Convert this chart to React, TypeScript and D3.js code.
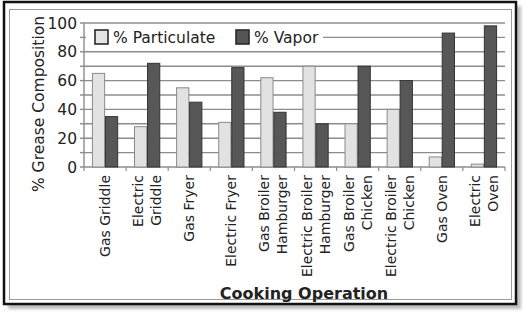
import { useEffect, useRef } from 'react';
import * as d3 from 'd3';

// Values
const categories = [
  'Gas Griddle',
  'Electric Griddle',
  'Gas Fryer',
  'Electric Fryer',
  'Gas Broiler Hamburger',
  'Electric Broiler Hamburger',
  'Gas Broiler Chicken',
  'Electric Broiler Chicken',
  'Gas Oven',
  'Electric Oven',
];
// how each category label is broken into lines
const categoryLines = [
  ['Gas Griddle'],
  ['Electric', 'Griddle'],
  ['Gas Fryer'],
  ['Electric Fryer'],
  ['Gas Broiler', 'Hamburger'],
  ['Electric Broiler', 'Hamburger'],
  ['Gas Broiler', 'Chicken'],
  ['Electric Broiler', 'Chicken'],
  ['Gas Oven'],
  ['Electric', 'Oven'],
];
const particulate = [65, 28, 55, 31, 62, 70, 30, 40, 7, 2];
const vapor = [35, 72, 45, 69, 38, 30, 70, 60, 93, 98];
const seriesNames = ['% Particulate', '% Vapor'];
const yTicks = [0, 20, 40, 60, 80, 100];

const FONT = '"DejaVu Sans", Verdana, sans-serif';

const App = () => {
  const svgRef = useRef<SVGSVGElement>(null);

  useEffect(() => {
    if (!svgRef.current) return;
    const svg = d3.select(svgRef.current);
    svg.selectAll('*').remove();

    const width = 526;
    const height = 314;
    const left = 84;
    const right = 505;
    const top = 23;
    const bottom = 167;

    // frame with drop shadow
    svg.append('rect')
      .attr('x', 8).attr('y', 6).attr('width', 513).attr('height', 303)
      .attr('fill', '#bdbdbd')
      .attr('filter', 'url(#blur)');
    const defs = svg.append('defs');
    defs.append('filter').attr('id', 'blur')
      .append('feGaussianBlur').attr('stdDeviation', 1.5);
    svg.append('rect')
      .attr('x', 4).attr('y', 2).attr('width', 512).attr('height', 302)
      .attr('fill', '#fff').attr('stroke', '#111').attr('stroke-width', 2.5);
    svg.append('rect')
      .attr('x', 9.5).attr('y', 9.5).attr('width', 502).attr('height', 290)
      .attr('fill', 'none').attr('stroke', '#9a9a9a').attr('stroke-width', 1);

    const x0 = d3.scaleBand<string>()
      .domain(categories)
      .range([left, right])
      .paddingInner(0.4)
      .paddingOuter(0.2);
    const x1 = d3.scaleBand<string>()
      .domain(seriesNames)
      .range([0, x0.bandwidth()])
      .paddingInner(0.06);
    const y = d3.scaleLinear().domain([0, 100]).range([bottom, top]);

    // gridlines every 10
    svg.append('g')
      .selectAll('line')
      .data(d3.range(0, 101, 10))
      .join('line')
      .attr('x1', left).attr('x2', right)
      .attr('y1', d => y(d)).attr('y2', d => y(d))
      .attr('stroke', '#8c8c8c').attr('stroke-width', 1.4);

    // y axis
    svg.append('line')
      .attr('x1', left).attr('x2', left).attr('y1', top).attr('y2', bottom)
      .attr('stroke', '#8c8c8c').attr('stroke-width', 1.4);
    svg.append('g')
      .selectAll('line')
      .data(d3.range(0, 101, 10))
      .join('line')
      .attr('x1', left - 4).attr('x2', left)
      .attr('y1', d => y(d)).attr('y2', d => y(d))
      .attr('stroke', '#8c8c8c').attr('stroke-width', 1.4);
    svg.append('g')
      .selectAll('text')
      .data(yTicks)
      .join('text')
      .attr('x', left - 7)
      .attr('y', d => y(d))
      .attr('dy', '0.36em')
      .attr('text-anchor', 'end')
      .attr('font-family', FONT)
      .attr('font-size', 15.5)
      .attr('fill', '#222')
      .text(d => d);

    // x axis ticks at category boundaries
    const step = x0.step();
    svg.append('g')
      .selectAll('line')
      .data(d3.range(0, categories.length + 1))
      .join('line')
      .attr('x1', i => left + i * step).attr('x2', i => left + i * step)
      .attr('y1', bottom).attr('y2', bottom + 4)
      .attr('stroke', '#8c8c8c').attr('stroke-width', 1.2);

    // legend (white box hides gridlines behind it)
    svg.append('rect')
      .attr('x', left + 2).attr('y', y(100) + 3).attr('width', 237).attr('height', 24)
      .attr('fill', '#fff');
    const legend = svg.append('g').attr('font-family', FONT).attr('font-size', 15.5).attr('fill', '#222');
    const legendX = [95, 236];
    const legendFill = ['#e4e4e4', '#555'];
    seriesNames.forEach((name, i) => {
      legend.append('rect')
        .attr('x', legendX[i]).attr('y', 30).attr('width', 13).attr('height', 14)
        .attr('fill', legendFill[i]).attr('stroke', '#2a2a2a').attr('stroke-width', 1.6);
      legend.append('text')
        .attr('x', legendX[i] + 18).attr('y', 37).attr('dy', '0.36em')
        .text(name);
    });

    // bars
    const groups = svg.append('g')
      .selectAll('g')
      .data(categories)
      .join('g')
      .attr('transform', d => `translate(${x0(d)},0)`);
    groups.append('rect')
      .attr('x', x1(seriesNames[0])!)
      .attr('width', x1.bandwidth())
      .attr('y', (d, i) => y(particulate[i]))
      .attr('height', (d, i) => bottom - y(particulate[i]))
      .attr('fill', '#e2e2e2').attr('stroke', '#8a8a8a').attr('stroke-width', 1);
    groups.append('rect')
      .attr('x', x1(seriesNames[1])!)
      .attr('width', x1.bandwidth())
      .attr('y', (d, i) => y(vapor[i]))
      .attr('height', (d, i) => bottom - y(vapor[i]))
      .attr('fill', '#575757').attr('stroke', '#333').attr('stroke-width', 1);

    // rotated category labels
    const lineGap = 18;
    categories.forEach((c, i) => {
      const cx = x0(c)! + x0.bandwidth() / 2;
      const lines = categoryLines[i];
      const g = svg.append('g')
        .attr('transform', `translate(${cx},${bottom + 8}) rotate(-90)`);
      lines.forEach((ln, j) => {
        const off = (j - (lines.length - 1) / 2) * lineGap;
        g.append('text')
          .attr('x', 0)
          .attr('y', off)
          .attr('dy', '0.36em')
          .attr('text-anchor', 'end')
          .attr('font-family', FONT)
          .attr('font-size', 14)
          .attr('fill', '#222')
          .text(ln);
      });
    });

    // axis titles
    svg.append('text')
      .attr('transform', `translate(38,104) rotate(-90)`)
      .attr('dy', '0.36em')
      .attr('text-anchor', 'middle')
      .attr('font-family', FONT)
      .attr('font-size', 15.5)
      .attr('fill', '#222')
      .text('% Grease Composition');
    svg.append('text')
      .attr('x', 304).attr('y', 299)
      .attr('text-anchor', 'middle')
      .attr('font-family', FONT)
      .attr('font-size', 16)
      .attr('font-weight', 'bold')
      .attr('fill', '#222')
      .text('Cooking Operation');

    svg.attr('width', width).attr('height', height);
  }, []);

  return (
    <div style={{ position: 'absolute', left: 0, top: 0 }}>
      <svg ref={svgRef} width={526} height={314} style={{ display: 'block' }}></svg>
    </div>
  );
};

export default App;
